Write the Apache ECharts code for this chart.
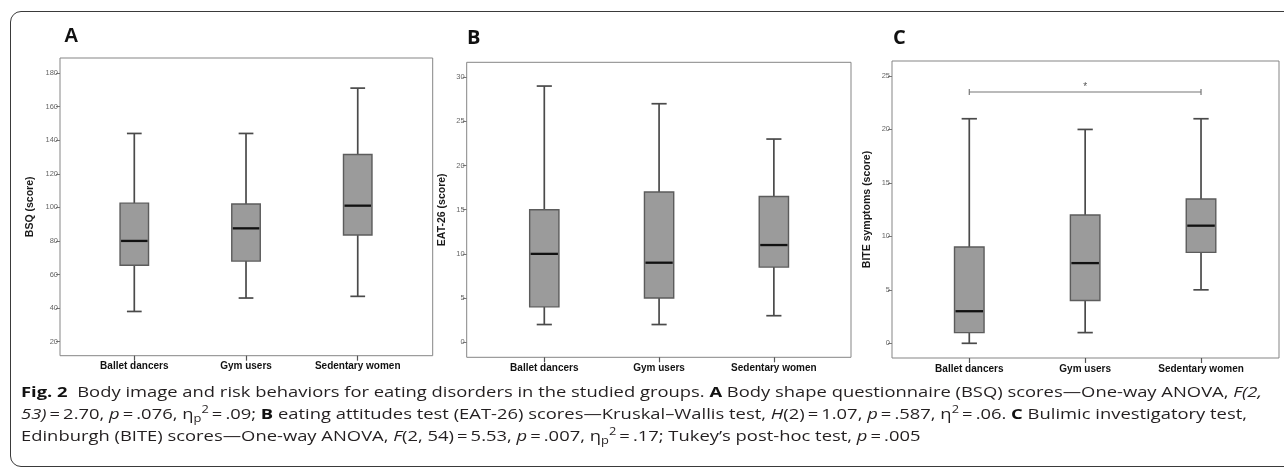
<!DOCTYPE html>
<html>
<head>
<meta charset="utf-8">
<script src="https://cdn.jsdelivr.net/npm/echarts@6/dist/echarts.min.js"></script>
<style>
  html, body { margin: 0; padding: 0; background: #fff; overflow: hidden; }
  #wrap { position: relative; width: 1284px; height: 470px; overflow: hidden; }
  #border { position: absolute; left: 10px; top: 11px; width: 1320px; height: 456px;
    border: 1px solid #3a3a3a; border-radius: 11px; box-sizing: border-box; }
  #chart { position: absolute; left: 0; top: 0; width: 1284px; height: 470px; }
  #cap { position: absolute; left: 21px; top: 381px; font-family: "Open Sans", sans-serif;
    font-size: 15px; line-height: 21.8px; color: #231f20; white-space: nowrap;
    transform-origin: 0 0; }
  #cap b { font-weight: 700; color: #111; }
  .lo { font-size: 70%; vertical-align: -0.3em; line-height: 0; }
  .hi { font-size: 70%; vertical-align: 0.55em; line-height: 0; }
</style>
</head>
<body>
<div id="wrap">
  <div id="border"></div>
  <div id="chart"></div>
  <div id="cap">
    <div class="ln" id="ln1"><b>Fig. 2</b>&nbsp; Body image and risk behaviors for eating disorders in the studied groups. <b>A</b> Body shape questionnaire (BSQ) scores—One-way ANOVA, <i>F(2,</i></div>
    <div class="ln"><i>53)</i>&thinsp;=&thinsp;2.70, <i>p</i>&thinsp;=&thinsp;.076, η<span class="lo">p</span><span class="hi">2</span>&thinsp;=&thinsp;.09; <b>B</b> eating attitudes test (EAT-26) scores—Kruskal–Wallis test, <i>H</i>(2)&thinsp;=&thinsp;1.07, <i>p</i>&thinsp;=&thinsp;.587, η<span class="hi">2</span>&thinsp;=&thinsp;.06. <b>C</b> Bulimic investigatory test,</div>
    <div class="ln">Edinburgh (BITE) scores—One-way ANOVA, <i>F</i>(2, 54)&thinsp;=&thinsp;5.53, <i>p</i>&thinsp;=&thinsp;.007, η<span class="lo">p</span><span class="hi">2</span>&thinsp;=&thinsp;.17; Tukey’s post-hoc test, <i>p</i>&thinsp;=&thinsp;.005</div>
  </div>
</div>
<script>
  // groups
  var categories = ['Ballet dancers', 'Gym users', 'Sedentary women']
  var groupPos = [0, 1, 2]
  // box values: [min, Q1, median, Q3, max]
  var bsqBoxes = [[38, 65.5, 80, 102.5, 144], [46, 68, 87.5, 102, 144], [47, 83.5, 101, 131.5, 171]]
  var eatBoxes = [[2, 4, 10, 15, 29], [2, 5, 9, 17, 27], [3, 8.5, 11, 16.5, 23]]
  var biteBoxes = [[0, 1, 3, 9, 21], [1, 4, 7.5, 12, 20], [5, 8.5, 11, 13.5, 21]]
  // tick labels
  var bsqTicks = [20, 40, 60, 80, 100, 120, 140, 160, 180]
  var eatTicks = [0, 5, 10, 15, 20, 25, 30]
  var biteTicks = [0, 5, 10, 15, 20, 25]
  // significance bracket in C: [from group, to group, height]
  var biteSignif = [[0, 2, 23.5]]

  var arial = '"Liberation Sans", Arial, sans-serif'

  var panels = [
    { letter: 'A', lx: 64, ly: 36, lfont: arial, name: 'BSQ (score)', boxes: bsqBoxes, ticks: bsqTicks,
      frame: { left: 60, top: 58, width: 372.7, height: 297.7 },
      xr: [-0.665, 2.671], yr: [11.66, 188.93], nameGap: 24 },
    { letter: 'B', lx: 467, ly: 38, lfont: '"Open Sans", sans-serif', name: 'EAT-26 (score)', boxes: eatBoxes, ticks: eatTicks,
      frame: { left: 466.7, top: 62.3, width: 384.3, height: 295 },
      xr: [-0.676, 2.672], yr: [-1.71, 31.69], nameGap: 19 },
    { letter: 'C', lx: 893, ly: 38, lfont: '"Open Sans", sans-serif', name: 'BITE symptoms (score)', boxes: biteBoxes, ticks: biteTicks,
      frame: { left: 892, top: 61, width: 387, height: 297 },
      xr: [-0.667, 2.673], yr: [-1.375, 26.40], nameGap: 19 }
  ]

  function renderBox (params, api) {
    var x = api.value(0)
    var lo = api.coord([x, api.value(1)])
    var q1 = api.coord([x, api.value(2)])
    var md = api.coord([x, api.value(3)])
    var q3 = api.coord([x, api.value(4)])
    var hi = api.coord([x, api.value(5)])
    var band = api.size([1, 0])[0]
    var bw = band * 0.255
    var cw = band * 0.132
    var cx = lo[0]
    var wStyle = { stroke: '#4a4a4a', lineWidth: 1.7 }
    return {
      type: 'group',
      children: [
        { type: 'line', shape: { x1: cx, y1: q3[1], x2: cx, y2: hi[1] }, style: wStyle },
        { type: 'line', shape: { x1: cx, y1: q1[1], x2: cx, y2: lo[1] }, style: wStyle },
        { type: 'line', shape: { x1: cx - cw / 2, y1: hi[1], x2: cx + cw / 2, y2: hi[1] }, style: wStyle },
        { type: 'line', shape: { x1: cx - cw / 2, y1: lo[1], x2: cx + cw / 2, y2: lo[1] }, style: wStyle },
        { type: 'rect', shape: { x: cx - bw / 2, y: q3[1], width: bw, height: q1[1] - q3[1] },
          style: { fill: '#9b9b9b', stroke: '#5c5c5c', lineWidth: 1.4 } },
        { type: 'line', shape: { x1: cx - bw / 2 + 1, y1: md[1], x2: cx + bw / 2 - 1, y2: md[1] },
          style: { stroke: '#111', lineWidth: 2.3 } }
      ]
    }
  }

  function renderSignif (params, api) {
    var a = api.coord([api.value(0), api.value(2)])
    var b = api.coord([api.value(1), api.value(2)])
    var s = { stroke: '#777', lineWidth: 1.2 }
    return {
      type: 'group',
      children: [
        { type: 'line', shape: { x1: a[0], y1: a[1], x2: b[0], y2: b[1] }, style: s },
        { type: 'line', shape: { x1: a[0], y1: a[1] - 3, x2: a[0], y2: a[1] + 3 }, style: s },
        { type: 'line', shape: { x1: b[0], y1: b[1] - 3, x2: b[0], y2: b[1] + 3 }, style: s },
        { type: 'text', style: { text: '*', x: (a[0] + b[0]) / 2, y: a[1] - 5, fill: '#555',
          font: '10px ' + arial, align: 'center', verticalAlign: 'middle' } }
      ]
    }
  }

  var grid = []
  var xAxis = []
  var yAxis = []
  var series = []
  var graphic = []

  panels.forEach(function (p, i) {
    grid.push({ left: p.frame.left, top: p.frame.top, width: p.frame.width, height: p.frame.height,
      show: true, borderColor: '#858585', borderWidth: 1, backgroundColor: 'transparent' })
    xAxis.push({
      gridIndex: i,
      type: 'value',
      min: p.xr[0],
      max: p.xr[1],
      splitLine: { show: false },
      axisLine: { show: false, onZero: false },
      axisTick: { show: true, length: 5, customValues: groupPos, lineStyle: { color: '#555', width: 1.2 } },
      axisLabel: { customValues: groupPos, margin: 6, color: '#111', fontFamily: arial, fontWeight: 'bold', fontSize: 10,
        formatter: function (v) { return categories[Math.round(v)] } }
    })
    yAxis.push({
      gridIndex: i,
      type: 'value',
      min: p.yr[0],
      max: p.yr[1],
      name: p.name,
      nameLocation: 'middle',
      nameGap: p.nameGap,
      nameTextStyle: { color: '#1a1a1a', fontFamily: arial, fontWeight: 'bold', fontSize: 10.5 },
      splitLine: { show: false },
      axisLine: { show: false, onZero: false },
      axisTick: { show: true, length: 4, customValues: p.ticks, lineStyle: { color: '#777' } },
      axisLabel: { customValues: p.ticks, margin: 2, color: '#666', fontFamily: arial, fontSize: 7.5 }
    })
    series.push({
      type: 'custom',
      xAxisIndex: i,
      yAxisIndex: i,
      renderItem: renderBox,
      encode: { x: 0, y: [1, 2, 3, 4, 5] },
      data: p.boxes.map(function (b, k) { return [groupPos[k]].concat(b) }),
      silent: true
    })
    graphic.push({ type: 'text', x: p.lx, y: p.ly,
      style: { text: p.letter, font: 'bold 20px ' + p.lfont, fill: '#111', verticalAlign: 'middle' } })
  })

  series.push({
    type: 'custom',
    xAxisIndex: 2,
    yAxisIndex: 2,
    renderItem: renderSignif,
    encode: { x: [0, 1], y: 2 },
    data: biteSignif,
    silent: true
  })

  var myChart = echarts.init(document.getElementById('chart'))
  myChart.setOption({
    animation: false,
    grid: grid,
    xAxis: xAxis,
    yAxis: yAxis,
    series: series,
    graphic: graphic
  })

  function fitCaption () {
    var cap = document.getElementById('cap')
    var l1 = document.getElementById('ln1')
    cap.style.transform = 'none'
    var r = document.createRange()
    r.selectNodeContents(l1)
    var w = r.getBoundingClientRect().width
    if (w > 0) cap.style.transform = 'scaleX(' + (1241 / w) + ')'
  }
  fitCaption()
  if (document.fonts && document.fonts.ready) document.fonts.ready.then(fitCaption)
</script>
</body>
</html>
